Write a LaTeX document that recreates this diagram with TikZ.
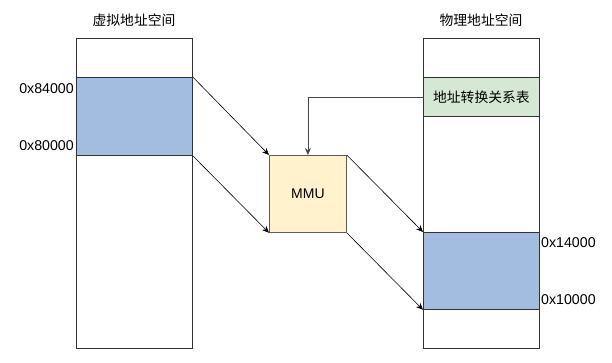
\documentclass[tikz,border=0pt]{standalone}
\usepackage{fontspec}
\setmainfont{Liberation Sans}
\newfontfamily\cjk{Noto Sans CJK SC}
\usetikzlibrary{arrows.meta}
\definecolor{memblue}{HTML}{A3BDE1}
\definecolor{tblgreen}{HTML}{D5E8D4}
\definecolor{mmuyellow}{HTML}{FFF2CC}
\definecolor{edge}{HTML}{333333}
\begin{document}
\begin{tikzpicture}[x=1pt,y=-1pt,
  seg/.style={draw=edge,line width=0.8pt},
  lbl/.style={font=\fontsize{14.2}{16}\selectfont,inner sep=1pt},
  ttl/.style={font=\cjk\fontsize{13.8}{16}\selectfont,inner sep=0pt},
  arr/.style={draw=black,line width=0.6pt,-{Stealth[length=7pt,width=6pt]}}]
\useasboundingbox (0,0) rectangle (612,362);
% left column
\path[seg,fill=white] (76,38) rectangle (192,348);
\node[seg,fill=memblue,minimum width=116pt,minimum height=78pt,inner sep=0pt,anchor=north west] (vblk) at (76,77) {};
\node[ttl] (vtitle) at (134,20) {虚拟地址空间};
\node[lbl,anchor=east] (v84) at (75,89) {0x84000};
\node[lbl,anchor=east] (v80) at (75,146) {0x80000};
% right column
\path[seg,fill=white] (423,38) rectangle (539,348);
\node[seg,fill=tblgreen,minimum width=116pt,minimum height=39pt,inner sep=0pt,anchor=north west,font=\cjk\fontsize{13.8}{16}\selectfont] (tbl) at (423,77) {地址转换关系表};
\node[seg,fill=memblue,minimum width=116pt,minimum height=77pt,inner sep=0pt,anchor=north west] (pblk) at (423,232) {};
\node[ttl] (ptitle) at (481,20) {物理地址空间};
\node[lbl,anchor=west] (p14) at (540,243) {0x14000};
\node[lbl,anchor=west] (p10) at (540,300) {0x10000};
% MMU
\node[draw=edge!80,line width=0.8pt,fill=mmuyellow,minimum width=77pt,minimum height=77pt,inner sep=0pt,anchor=north west,font=\fontsize{14}{16}\selectfont] (mmu) at (269,155) {MMU};
% arrows
\draw[arr] (vblk.north east) -- (mmu.north west);
\draw[arr] (vblk.south east) -- (mmu.south west);
\draw[arr] (mmu.north east) -- (pblk.north west);
\draw[arr] (mmu.south east) -- (pblk.south west);
\draw[arr,draw=edge!90] (tbl.west) -| (mmu.north);
\end{tikzpicture}
\end{document}
